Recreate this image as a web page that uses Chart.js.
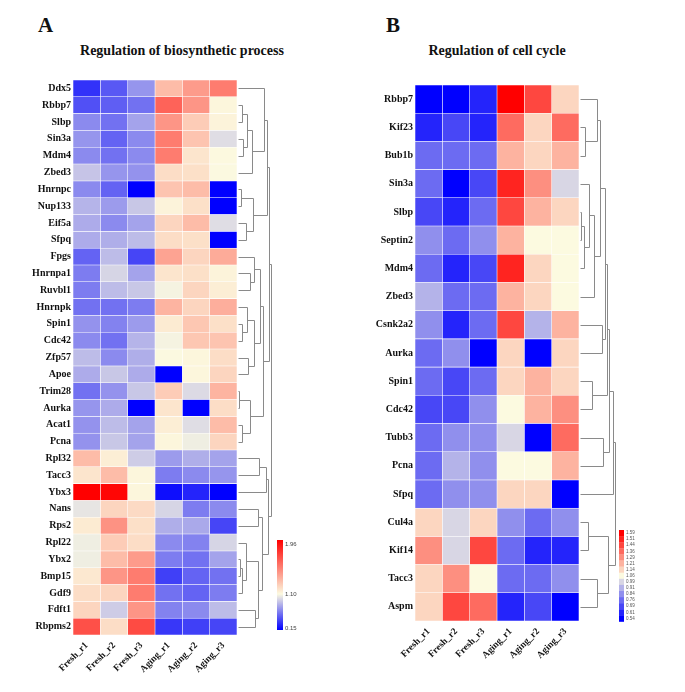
<html>
<head>
    <title>Heatmaps - biosynthetic process / cell cycle</title>
    <script src="https://cdn.jsdelivr.net/npm/chart.js"></script>
    <style>
        body { margin: 0; background: white; width: 685px; height: 692px; position: relative; overflow: hidden; }
        canvas { position: absolute; top: 0; }
        .letter { position: absolute; top: 13px; font: bold 21px 'Liberation Serif', 'Times New Roman', serif; color: #111; }
        .title { position: absolute; top: 43px; text-align: center; font: bold 14px 'Liberation Serif', 'Times New Roman', serif; color: #111; }
    </style>
</head>
<body>
    <div class="letter" style="left:38px;">A</div>
    <div class="title" style="left:0; width:364px;">Regulation of biosynthetic process</div>
    <canvas id="heatA" width="342" height="692" style="left:0;"></canvas>

    <div class="letter" style="left:386px;">B</div>
    <div class="title" style="left:397px; width:200px;">Regulation of cell cycle</div>
    <canvas id="heatB" width="343" height="692" style="left:342px;"></canvas>

<script>
    const samples = ['Fresh_r1', 'Fresh_r2', 'Fresh_r3', 'Aging_r1', 'Aging_r2', 'Aging_r3'];

    // panel A
    const genesA = ['Ddx5', 'Rbbp7', 'Slbp', 'Sin3a', 'Mdm4', 'Zbed3', 'Hnrnpc', 'Nup133', 'Eif5a', 'Sfpq',
        'Fpgs', 'Hnrnpa1', 'Ruvbl1', 'Hnrnpk', 'Spin1', 'Cdc42', 'Zfp57', 'Apoe', 'Trim28', 'Aurka',
        'Acat1', 'Pcna', 'Rpl32', 'Tacc3', 'Ybx3', 'Nans', 'Rps2', 'Rpl22', 'Ybx2', 'Bmp15',
        'Gdf9', 'Fdft1', 'Rbpms2'];
    const heatA = [
        [0.33, 0.47, 0.69, 1.28, 1.40, 1.51],
        [0.44, 0.49, 0.56, 1.60, 1.42, 1.07],
        [0.65, 0.56, 0.74, 1.42, 1.22, 1.08],
        [0.69, 0.51, 0.65, 1.51, 1.25, 0.95],
        [0.65, 0.56, 0.65, 1.51, 1.13, 1.06],
        [0.86, 0.69, 0.68, 1.16, 1.15, 1.05],
        [0.65, 0.51, 0.15, 1.25, 1.28, 0.15],
        [0.80, 0.71, 0.87, 1.08, 1.15, 0.15],
        [0.77, 0.65, 0.74, 1.19, 1.28, 0.95],
        [0.77, 0.78, 0.83, 1.16, 1.15, 0.15],
        [0.51, 0.83, 0.40, 1.37, 1.19, 1.34],
        [0.60, 0.92, 0.74, 1.13, 1.15, 1.08],
        [0.60, 0.83, 0.87, 1.03, 1.19, 1.10],
        [0.56, 0.56, 0.60, 1.31, 1.19, 1.33],
        [0.68, 0.62, 0.71, 1.11, 1.24, 1.15],
        [0.65, 0.56, 0.80, 1.03, 1.24, 1.25],
        [0.83, 0.65, 0.78, 1.05, 1.07, 1.16],
        [0.77, 0.87, 0.77, 0.15, 1.07, 1.19],
        [0.56, 0.68, 0.87, 1.22, 0.94, 1.31],
        [0.69, 0.77, 0.15, 1.13, 0.15, 1.16],
        [0.68, 0.83, 0.74, 1.10, 0.95, 1.28],
        [0.68, 0.87, 0.74, 1.07, 1.01, 1.19],
        [1.28, 1.10, 0.89, 0.71, 0.78, 0.74],
        [1.13, 1.28, 1.07, 0.60, 0.65, 0.69],
        [1.96, 1.94, 1.07, 0.20, 0.28, 0.15],
        [0.98, 1.19, 1.17, 0.92, 0.60, 0.65],
        [1.11, 1.43, 1.15, 0.78, 0.76, 0.40],
        [1.01, 1.22, 1.16, 0.65, 0.62, 0.92],
        [1.01, 1.28, 1.40, 0.60, 0.56, 0.74],
        [1.12, 1.42, 1.51, 0.38, 0.51, 0.56],
        [1.16, 1.19, 1.51, 0.56, 0.51, 0.60],
        [1.19, 0.89, 1.42, 0.62, 0.65, 0.83],
        [1.67, 1.16, 1.69, 0.35, 0.38, 0.40]
    ];
    const rangeA = [0.15, 1.96];
    const legendA = ['1.96', '1.10', '0.15'];
    // row tree: [left, right, merge height], leaves are row indexes
    const treeA = [
        [
            [[0, [[[1, 2, 4], [3, 4, 5], 9], 5, 14], 26], [[6, 7, 3], [8, 9, 8], 15], 29],
            [[[10, [11, 12, 12], 16], [[13, [14, 15, 4], 9], [16, 17, 10], 16], 22], [[18, 19, 1], [20, 21, 4], 12], 25],
            31
        ],
        [
            [[22, 23, 21], 24, 28],
            [[25, 26, 20], [[27, [[28, 29, 2], 30, 4], 8], [31, 32, 17], 20], 24],
            30
        ],
        33
    ];

    // panel B
    const genesB = ['Rbbp7', 'Kif23', 'Bub1b', 'Sin3a', 'Slbp', 'Septin2', 'Mdm4', 'Zbed3', 'Csnk2a2', 'Aurka',
        'Spin1', 'Cdc42', 'Tubb3', 'Pcna', 'Sfpq', 'Cul4a', 'Kif14', 'Tacc3', 'Aspm'];
    const heatB = [
        [0.54, 0.54, 0.62, 1.59, 1.43, 1.14],
        [0.65, 0.67, 0.59, 1.35, 1.14, 1.37],
        [0.75, 0.76, 0.75, 1.22, 1.14, 1.25],
        [0.74, 0.54, 0.67, 1.51, 1.30, 0.99],
        [0.66, 0.59, 0.74, 1.43, 1.23, 1.14],
        [0.83, 0.75, 0.83, 1.22, 1.08, 1.08],
        [0.74, 0.58, 0.66, 1.53, 1.14, 1.08],
        [0.91, 0.75, 0.76, 1.22, 1.13, 1.08],
        [0.83, 0.60, 0.75, 1.43, 0.90, 1.22],
        [0.74, 0.83, 0.54, 1.14, 0.54, 1.14],
        [0.74, 0.67, 0.74, 1.14, 1.22, 1.13],
        [0.66, 0.67, 0.83, 1.08, 1.22, 1.30],
        [0.75, 0.83, 0.83, 0.99, 0.54, 1.38],
        [0.74, 0.91, 0.83, 1.08, 1.08, 1.22],
        [0.74, 0.83, 0.83, 1.14, 1.14, 0.54],
        [1.14, 0.99, 1.14, 0.83, 0.74, 0.83],
        [1.30, 0.99, 1.46, 0.74, 0.60, 0.62],
        [1.14, 1.30, 1.08, 0.75, 0.75, 0.83],
        [1.14, 1.46, 1.39, 0.60, 0.67, 0.54]
    ];
    const rangeB = [0.54, 1.59];
    const legendB = ['1.59', '1.51', '1.44', '1.36', '1.29', '1.21', '1.14', '1.06', '0.99', '0.91', '0.84', '0.76', '0.69', '0.61', '0.54'];
    const treeB = [
        [[[[[[0, [1, 2, 5], 17], [[[[4, 5, 1], 6, 4], 3, 9], 7, 14], 20], [8, 9, 22], 25], [10, 11, 12], 27], [12, 13, 23], 29], 14, 33],
        [[15, 16, 8], [17, 18, 17], 28],
        35
    ];

    const serif = "'Liberation Serif', 'Times New Roman', serif";
    const BLUE = [0, 0, 255], MID = [252, 250, 224], RED = [255, 0, 0];

    function ramp(t) {
        t = Math.max(0, Math.min(1, t));
        let a, b, s;
        if (t < 0.5) { a = BLUE; b = MID; s = t / 0.5; }
        else { a = MID; b = RED; s = (t - 0.5) / 0.5; }
        const c = a.map((v, i) => Math.round(v + (b[i] - v) * s));
        return `rgb(${c[0]},${c[1]},${c[2]})`;
    }
    const colorA = v => ramp((v - rangeA[0]) / (rangeA[1] - rangeA[0]));
    const colorB = v => {
        const n = legendB.length - 1;
        const k = Math.round((v - rangeB[0]) / (rangeB[1] - rangeB[0]) * n);
        return ramp(k / n);
    };

    function dendroPlugin(tree) {
        return {
            id: 'dendro',
            afterDatasetsDraw(chart) {
                const ctx = chart.ctx, y = chart.scales.y;
                const x0 = chart.chartArea.right + 1;
                ctx.save();
                ctx.strokeStyle = '#8a8a8a';
                ctx.lineWidth = 1;
                const px = v => Math.round(v) + 0.5;
                function walk(n) {
                    if (typeof n === 'number') return { x: x0, y: y.getPixelForValue(n) };
                    const a = walk(n[0]), b = walk(n[1]);
                    const nx = x0 + n[2];
                    ctx.beginPath();
                    ctx.moveTo(px(a.x), px(a.y));
                    ctx.lineTo(px(nx), px(a.y));
                    ctx.lineTo(px(nx), px(b.y));
                    ctx.lineTo(px(b.x), px(b.y));
                    ctx.stroke();
                    return { x: nx, y: (a.y + b.y) / 2 };
                }
                walk(tree);
                ctx.restore();
            }
        };
    }

    const colorbarA = {
        id: 'colorbarA',
        afterDraw(chart) {
            const ctx = chart.ctx, area = chart.chartArea;
            const x = area.right + 40, top = area.bottom - 95, h = 90, w = 6;
            const g = ctx.createLinearGradient(0, top, 0, top + h);
            g.addColorStop(0, ramp(1));
            g.addColorStop(0.6, ramp(0.5));
            g.addColorStop(1, ramp(0));
            ctx.save();
            ctx.fillStyle = g;
            ctx.fillRect(x, top, w, h);
            ctx.fillStyle = '#444';
            ctx.font = "6px 'Liberation Sans', Arial, sans-serif";
            ctx.textBaseline = 'middle';
            ctx.fillText(legendA[0], x + w + 2, top + 4);
            ctx.fillText(legendA[1], x + w + 2, top + h * 0.6);
            ctx.fillText(legendA[2], x + w + 2, top + h - 2);
            ctx.restore();
        }
    };

    const colorbarB = {
        id: 'colorbarB',
        afterDraw(chart) {
            const ctx = chart.ctx, area = chart.chartArea;
            const x = area.right + 40, top = area.bottom - 91, w = 5, bh = 6.1;
            const n = legendB.length - 1;
            ctx.save();
            ctx.font = "4.5px 'Liberation Sans', Arial, sans-serif";
            ctx.textBaseline = 'middle';
            legendB.forEach((lab, i) => {
                ctx.fillStyle = ramp(1 - i / n);
                ctx.fillRect(x, top + i * bh, w, bh + 0.3);
                ctx.fillStyle = '#555';
                ctx.fillText(lab, x + w + 2, top + i * bh + bh / 2);
            });
            ctx.restore();
        }
    };

    function makeHeatmap(id, genes, heat, colorFn, tree, legendPlugin, topPad, bottomH, canvasW) {
        const datasets = samples.map((s, j) => ({
            label: s,
            data: genes.map(() => 1),
            backgroundColor: genes.map((g, i) => colorFn(heat[i][j])),
            borderColor: 'rgba(255,255,255,0.45)',
            borderWidth: 0.6,
            borderSkipped: false,
            barPercentage: 1,
            categoryPercentage: 1
        }));
        return new Chart(document.getElementById(id).getContext('2d'), {
            type: 'bar',
            data: { labels: genes, datasets: datasets },
            options: {
                indexAxis: 'y',
                responsive: false,
                animation: false,
                layout: { padding: { left: 0, top: topPad, right: canvasW - 237, bottom: 0 } },
                scales: {
                    x: {
                        type: 'linear', stacked: true, min: 0, max: samples.length,
                        grid: { display: false, drawTicks: false },
                        border: { display: false },
                        afterBuildTicks: scale => { scale.ticks = samples.map((s, j) => ({ value: j + 0.5 })); },
                        afterFit: scale => { scale.height = bottomH; },
                        ticks: {
                            autoSkip: false, minRotation: 45, maxRotation: 45, padding: 5,
                            color: '#111',
                            font: { family: serif, weight: 'bold', size: 9.5 },
                            callback: (v, i) => samples[i]
                        }
                    },
                    y: {
                        stacked: true,
                        grid: { display: false, drawTicks: false },
                        border: { display: false },
                        afterFit: scale => { scale.width = 73; },
                        ticks: {
                            autoSkip: false, padding: 2, color: '#111',
                            font: { family: serif, weight: 'bold', size: 10 }
                        }
                    }
                },
                plugins: { legend: { display: false }, tooltip: { enabled: false } }
            },
            plugins: [dendroPlugin(tree), legendPlugin]
        });
    }

    makeHeatmap('heatA', genesA, heatA, colorA, treeA, colorbarA, 80, 57, 342);
    makeHeatmap('heatB', genesB, heatB, colorB, treeB, colorbarB, 85, 71, 343);
</script>
</body>
</html>
